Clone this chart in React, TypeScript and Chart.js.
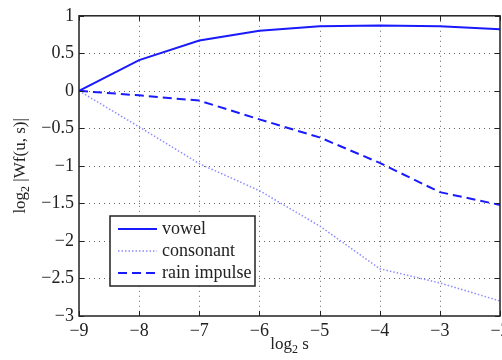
import React, { useEffect, useRef } from "react";
import { Chart, registerables } from "chart.js";

Chart.register(...registerables);

const FONT = '"Liberation Serif", "Times New Roman", serif';

const xValues = [-9, -8, -7, -6, -5, -4, -3, -2];
const vowel = [0, 0.41, 0.67, 0.8, 0.86, 0.87, 0.86, 0.82];
const consonant = [0, -0.48, -0.97, -1.33, -1.8, -2.37, -2.56, -2.8];
const rainImpulse = [0, -0.06, -0.13, -0.38, -0.62, -0.96, -1.35, -1.52];

const xTickValues = [-9, -8, -7, -6, -5, -4, -3, -2];
const yTickValues = [-3, -2.5, -2, -1.5, -1, -0.5, 0, 0.5, 1];

const seriesNames = ["vowel", "consonant", "rain impulse"];

const fmt = (v: number) => (v < 0 ? "\u2212" : "") + String(Math.abs(v));

function drawSubTitle(ctx: CanvasRenderingContext2D, base: string, sub: string, rest: string, cx: number, cy: number, rotate: boolean) {
  ctx.save();
  ctx.translate(cx, cy);
  if (rotate) ctx.rotate(-Math.PI / 2);
  const big = `17px ${FONT}`;
  const small = `12px ${FONT}`;
  ctx.font = big;
  const w1 = ctx.measureText(base).width;
  const w3 = ctx.measureText(rest).width;
  ctx.font = small;
  const w2 = ctx.measureText(sub).width;
  const total = w1 + w2 + w3;
  let x = -total / 2;
  ctx.fillStyle = "#222";
  ctx.textBaseline = "alphabetic";
  ctx.textAlign = "left";
  ctx.font = big;
  ctx.fillText(base, x, 5);
  x += w1;
  ctx.font = small;
  ctx.fillText(sub, x, 9);
  x += w2;
  ctx.font = big;
  ctx.fillText(rest, x, 5);
  ctx.restore();
}

const matlabPlugin = {
  id: "matlabStyle",
  beforeDatasetsDraw(chart: any) {
    const { ctx, chartArea: a, scales } = chart;
    const x = scales.x;
    const y = scales.y;
    ctx.save();
    ctx.strokeStyle = "rgba(0,0,0,0.6)";
    ctx.lineWidth = 1;
    ctx.setLineDash([1, 4]);
    xTickValues.forEach((v) => {
      if (v <= -9 || v >= -2) return;
      const px = Math.round(x.getPixelForValue(v)) + 0.5;
      ctx.beginPath();
      ctx.moveTo(px, a.top);
      ctx.lineTo(px, a.bottom);
      ctx.stroke();
    });
    yTickValues.forEach((v) => {
      if (v <= -3 || v >= 1) return;
      const py = Math.round(y.getPixelForValue(v)) + 0.5;
      ctx.beginPath();
      ctx.moveTo(a.left, py);
      ctx.lineTo(a.right, py);
      ctx.stroke();
    });
    ctx.restore();
  },
  afterDatasetsDraw(chart: any) {
    const { ctx, chartArea: a, scales } = chart;
    const x = scales.x;
    const y = scales.y;
    ctx.save();
    ctx.strokeStyle = "#222";
    ctx.lineWidth = 1.5;
    ctx.setLineDash([]);
    ctx.strokeRect(a.left, a.top, a.right - a.left, a.bottom - a.top);
    ctx.lineWidth = 1;
    const tl = 5;
    xTickValues.forEach((v) => {
      const px = Math.round(x.getPixelForValue(v)) + 0.5;
      ctx.beginPath();
      ctx.moveTo(px, a.bottom);
      ctx.lineTo(px, a.bottom - tl);
      ctx.moveTo(px, a.top);
      ctx.lineTo(px, a.top + tl);
      ctx.stroke();
    });
    yTickValues.forEach((v) => {
      const py = Math.round(y.getPixelForValue(v)) + 0.5;
      ctx.beginPath();
      ctx.moveTo(a.left, py);
      ctx.lineTo(a.left + tl, py);
      ctx.moveTo(a.right, py);
      ctx.lineTo(a.right - tl, py);
      ctx.stroke();
    });
    // legend
    const bx = 110, by = 216, bw = 145, bh = 70;
    ctx.fillStyle = "#fff";
    ctx.fillRect(bx, by, bw, bh);
    ctx.strokeStyle = "#222";
    ctx.lineWidth = 1.5;
    ctx.strokeRect(bx, by, bw, bh);
    const rows = [229, 251, 273];
    chart.data.datasets.forEach((ds: any, i: number) => {
      const ry = rows[i];
      ctx.save();
      ctx.strokeStyle = ds.borderColor;
      ctx.lineWidth = ds.borderWidth;
      ctx.setLineDash(ds.borderDash || []);
      ctx.beginPath();
      ctx.moveTo(118, ry);
      ctx.lineTo(157, ry);
      ctx.stroke();
      ctx.restore();
      ctx.fillStyle = "#222";
      ctx.font = `18px ${FONT}`;
      ctx.textBaseline = "middle";
      ctx.textAlign = "left";
      ctx.fillText(ds.label, 162, ry);
    });
    ctx.restore();
  },
  afterDraw(chart: any) {
    const { ctx, chartArea: a } = chart;
    drawSubTitle(ctx, "log", "2", " s", (a.left + a.right) / 2, 344, false);
    drawSubTitle(ctx, "log", "2", " |Wf(u, s)|", 20, (a.top + a.bottom) / 2, true);
  },
};

export default function App() {
  const ref = useRef<HTMLCanvasElement | null>(null);
  useEffect(() => {
    if (!ref.current) return;
    const mk = (vals: number[]) => xValues.map((xv, i) => ({ x: xv, y: vals[i] }));
    const chart = new Chart(ref.current, {
      type: "line",
      data: {
        datasets: [
          { label: seriesNames[0], data: mk(vowel), borderColor: "#1a1aff", borderWidth: 2, pointRadius: 0, tension: 0, fill: false },
          { label: seriesNames[1], data: mk(consonant), borderColor: "#8c8cff", borderWidth: 1.5, borderDash: [1.5, 2], pointRadius: 0, tension: 0, fill: false },
          { label: seriesNames[2], data: mk(rainImpulse), borderColor: "#1a1aff", borderWidth: 2, borderDash: [9, 5], pointRadius: 0, tension: 0, fill: false },
        ],
      },
      options: {
        animation: false,
        responsive: true,
        maintainAspectRatio: false,
        layout: { padding: { left: 0, right: 2, top: 14, bottom: 0 } },
        plugins: { legend: { display: false }, tooltip: { enabled: false } },
        scales: {
          x: {
            type: "linear",
            min: -9,
            max: -2,
            grid: { display: false, drawTicks: false },
            border: { display: false },
            afterBuildTicks: (s: any) => { s.ticks = xTickValues.map((v) => ({ value: v })); },
            afterFit: (s: any) => { s.height = 44; s.paddingLeft = 0; s.paddingRight = 0; },
            ticks: { color: "#222", font: { family: FONT, size: 18 }, padding: 4, maxRotation: 0, autoSkip: false, callback: (v: any) => fmt(Number(v)) },
          },
          y: {
            type: "linear",
            min: -3,
            max: 1,
            grid: { display: false, drawTicks: false },
            border: { display: false },
            afterBuildTicks: (s: any) => { s.ticks = yTickValues.map((v) => ({ value: v })); },
            afterFit: (s: any) => { s.width = 79; },
            ticks: { color: "#222", font: { family: FONT, size: 18 }, padding: 5, autoSkip: false, callback: (v: any) => fmt(Number(v)) },
          },
        },
      },
      plugins: [matlabPlugin],
    } as any);
    return () => chart.destroy();
  }, []);
  return (
    <div style={{ position: "fixed", left: 0, top: 0, width: 502, height: 360, background: "#fff" }}>
      <canvas ref={ref} />
    </div>
  );
}
